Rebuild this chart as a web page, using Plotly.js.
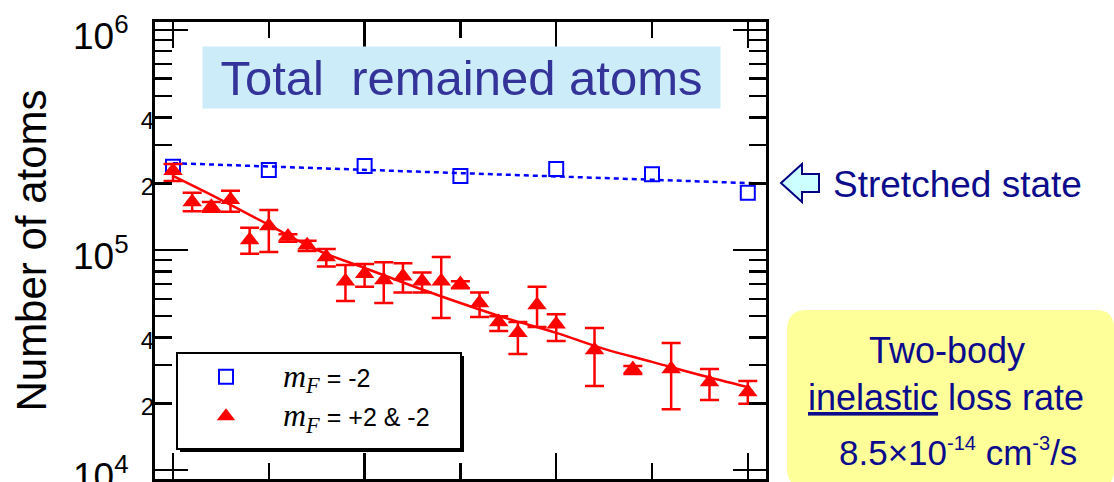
<!DOCTYPE html>
<html><head><meta charset="utf-8">
<script src="https://cdn.plot.ly/plotly-3.0.1.min.js"></script>
<style>html,body{margin:0;padding:0;background:#fff;} #chart{width:1114px;height:482px;}</style>
</head><body><div id="chart"></div>
<script>
// ---- data ----
const timeSingle  = [0, 100, 200, 300, 400, 500, 600];
const atomsSingle = [2.39e5, 2.31e5, 2.41e5, 2.17e5, 2.33e5, 2.21e5, 1.82e5];
const fitSingleT  = [0, 619];
const fitSingleN  = [2.48e5, 2.0e5];

const timeMixed  = [0,20,40,60,80,100,120,140,160,180,200,220,240,260,280,300,320,340,360,380,400,440,480,520,560,600];
const atomsMixed = [2.29e5,1.65e5,1.57e5,1.69e5,1.11e5,1.285e5,1.15e5,1.05e5,9.3e4,7.2e4,7.8e4,7.3e4,7.6e4,7.2e4,7.2e4,7.0e4,5.74e4,4.71e4,4.2e4,5.62e4,4.6e4,3.51e4,2.88e4,2.88e4,2.51e4,2.26e4];
const mixedHigh  = [2.46e5,1.82e5,1.65e5,1.86e5,1.26e5,1.52e5,1.18e5,1.10e5,1.01e5,8.55e4,8.64e4,8.8e4,8.7e4,7.9e4,9.3e4,7.2e4,6.4e4,5.0e4,4.7e4,6.8e4,5.1e4,4.42e4,2.97e4,3.78e4,2.88e4,2.54e4];
const mixedLow   = [2.06e5,1.50e5,1.49e5,1.49e5,9.6e4,9.8e4,1.09e5,9.9e4,8.4e4,5.86e4,6.8e4,5.74e4,6.4e4,6.4e4,4.9e4,6.7e4,4.96e4,4.28e4,3.37e4,4.47e4,3.86e4,2.41e4,2.73e4,1.89e4,2.08e4,2.0e4];
const fitMixedT  = [0,50,100,150,200,250,300,350,400,450,500,550,600];
const fitMixedN  = [2.17e5,1.69e5,1.30e5,1.0e5,8.28e4,6.86e4,5.74e4,4.86e4,4.2e4,3.55e4,3.1e4,2.7e4,2.38e4];

const majorY = [1e4, 1e5, 1e6];
const majorYText = ['10<sup>4</sup>', '10<sup>5</sup>', '10<sup>6</sup>'];
const minorY = [2e4,3e4,4e4,5e4,6e4,7e4,8e4,9e4,2e5,3e5,4e5,5e5,6e5,7e5,8e5,9e5];
const labelY = [2e4, 4e4, 2e5, 4e5];
const labelYText = ['2', '4', '2', '4'];

// ---- layout helpers (pixel -> paper) ----
const L = 155, R = 766, T = 22, B = 479;
const px = p => (p - L) / (R - L);
const py = p => (B - p) / (B - T);
const FONT = 'Liberation Sans, Arial, sans-serif';
const NAVY = '#0B0B8C';
const MF = '<span style="font-family:Liberation Serif,serif;font-style:italic;font-size:32px">m<sub>F</sub></span>';
const SUP = s => '<sup><span style="font-size:20px">' + s + '</span></sup>';

const traces = [
  { x: fitSingleT, y: fitSingleN, mode: 'lines', showlegend: false, hoverinfo: 'skip',
    line: { color: '#0000FF', width: 2.5, dash: '5px,4px' } },
  { x: fitMixedT, y: fitMixedN, mode: 'lines', showlegend: false, hoverinfo: 'skip',
    line: { color: '#FF0000', width: 2.5, shape: 'spline' } },
  { x: timeSingle, y: atomsSingle, mode: 'markers', legendgroup: 'a',
    name: MF + ' = -2',
    marker: { symbol: 'square-open', size: 14, color: '#0000FF', line: { width: 2, color: '#0000FF' } } },
  { x: timeMixed, y: atomsMixed, mode: 'markers', legendgroup: 'b',
    name: MF + ' = +2 &amp; -2',
    marker: { symbol: 'triangle-up', size: 17, color: '#FF0000' },
    error_y: { type: 'data', symmetric: false,
      array: mixedHigh.map((h, i) => h - atomsMixed[i]),
      arrayminus: mixedLow.map((l, i) => atomsMixed[i] - l),
      color: '#FF0000', thickness: 2.5, width: 9.5 } },
  { x: [null], y: [null], yaxis: 'y2', showlegend: false, hoverinfo: 'skip', mode: 'markers' }
];

const yr = [3.959, 6.036];
const layout = {
  width: 1114, height: 482,
  margin: { l: L, r: 1114 - R, t: T, b: 482 - B },
  paper_bgcolor: '#fff', plot_bgcolor: '#fff',
  font: { family: FONT, color: '#000' },
  showlegend: true,
  xaxis: {
    range: [-18.8, 619], showgrid: false, zeroline: false,
    showline: true, linewidth: 3, linecolor: '#000', mirror: 'ticks',
    ticks: 'inside', tickmode: 'array', tickvals: [0, 200, 400, 600], ticklen: 26, tickwidth: 2.5, tickcolor: '#000',
    showticklabels: false,
    minor: { tickmode: 'array', tickvals: [100, 300, 500], ticklen: 16, tickwidth: 2.5, tickcolor: '#000', ticks: 'inside' }
  },
  yaxis: {
    type: 'log', range: yr, showgrid: false, zeroline: false,
    showline: true, linewidth: 3, linecolor: '#000', mirror: 'ticks',
    ticks: 'inside', tickmode: 'array', tickvals: majorY, ticktext: majorYText,
    ticklen: 33, tickwidth: 2.5, tickcolor: '#000',
    tickfont: { size: 37, family: FONT }, ticklabelstandoff: 16, ticklabelshift: 6, ticklabeloverflow: 'allow',
    minor: { tickmode: 'array', tickvals: minorY, ticklen: 17, tickwidth: 2.5, tickcolor: '#000', ticks: 'inside' },
    title: { text: 'Number of atoms', font: { size: 42, family: FONT }, standoff: 14 },
    automargin: false
  },
  yaxis2: {
    type: 'log', range: yr, overlaying: 'y', side: 'left', anchor: 'x',
    showgrid: false, zeroline: false, showline: false, ticks: '',
    tickmode: 'array', tickvals: labelY, ticktext: labelYText,
    tickfont: { size: 24, family: FONT }, ticklabelstandoff: 0, ticklabelshift: 3, automargin: false
  },
  legend: {
    x: px(169), y: py(354), xanchor: 'left', yanchor: 'top',
    bgcolor: 'rgba(0,0,0,0)', borderwidth: 0,
    font: { size: 25, family: FONT, color: '#000' },
    tracegroupgap: 4, itemwidth: 104
  },
  shapes: [
    // legend frame with shadow
    { type: 'rect', xref: 'paper', yref: 'paper', x0: px(180), x1: px(464), y0: py(356), y1: py(452),
      fillcolor: '#000', line: { width: 0 }, layer: 'below' },
    { type: 'rect', xref: 'paper', yref: 'paper', x0: px(177), x1: px(461), y0: py(353), y1: py(449),
      fillcolor: '#fff', line: { width: 2, color: '#000' }, layer: 'below' },
    // yellow rounded box
    { type: 'path', xref: 'paper', yref: 'paper', layer: 'above',
      path: `M${px(807)},${py(310)} L${px(1096)},${py(310)} Q${px(1114)},${py(310)} ${px(1114)},${py(328)} L${px(1114)},${py(470)} Q${px(1114)},${py(488)} ${px(1096)},${py(488)} L${px(807)},${py(488)} Q${px(787)},${py(488)} ${px(787)},${py(468)} L${px(787)},${py(330)} Q${px(787)},${py(310)} ${px(807)},${py(310)} Z`,
      fillcolor: '#FFFF99', line: { width: 0 } },
    // arrow pointing to the stretched-state line
    { type: 'path', xref: 'paper', yref: 'paper', layer: 'above',
      path: `M${px(781)},${py(183)} L${px(802)},${py(164)} L${px(802)},${py(174)} L${px(819)},${py(174)} L${px(819)},${py(192)} L${px(802)},${py(192)} L${px(802)},${py(202)} Z`,
      fillcolor: '#CCFFFF', line: { width: 2, color: '#000080' } }
  ],
  annotations: [
    { text: 'Total  remained atoms', xref: 'paper', yref: 'paper', x: px(461.5), y: py(77.5),
      xanchor: 'center', yanchor: 'middle', showarrow: false, width: 517, height: 61, borderpad: 0,
      bgcolor: '#CCECFA', font: { size: 49, color: '#333399', family: FONT } },
    { text: 'Stretched state', xref: 'paper', yref: 'paper', x: px(957.5), y: py(184),
      xanchor: 'center', yanchor: 'middle', showarrow: false, font: { size: 37, color: NAVY, family: FONT } },
    { text: 'Two-body', xref: 'paper', yref: 'paper', x: px(946.7), y: py(350),
      xanchor: 'center', yanchor: 'middle', showarrow: false, font: { size: 36, color: NAVY, family: FONT } },
    { text: '<u>inelastic</u> loss rate', xref: 'paper', yref: 'paper', x: px(945.5), y: py(397),
      xanchor: 'center', yanchor: 'middle', showarrow: false, font: { size: 36, color: NAVY, family: FONT } },
    { text: '8.5×10' + SUP('-14') + ' cm' + SUP('-3') + '/s', xref: 'paper', yref: 'paper', x: px(958), y: py(452),
      xanchor: 'center', yanchor: 'middle', showarrow: false, font: { size: 35, color: NAVY, family: FONT } }
  ]
};

Plotly.newPlot('chart', traces, layout, { displayModeBar: false, staticPlot: true });
</script>
</body></html>
